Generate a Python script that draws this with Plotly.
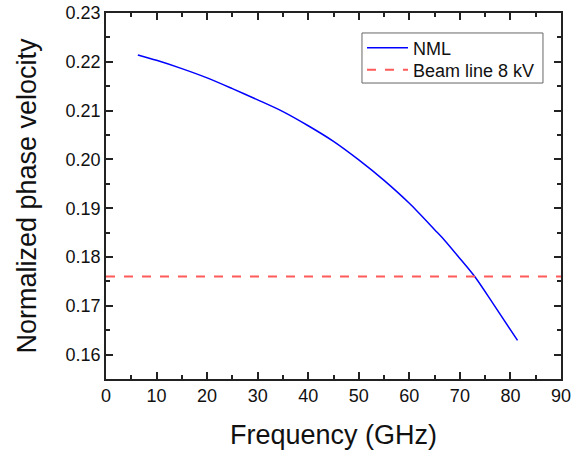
import plotly.graph_objects as go

freq_ghz = [6.3, 10, 15, 20, 25, 30, 35, 40, 45, 50, 55, 60, 65, 67, 70, 73, 76.6, 81.4]
nml_velocity = [0.2214, 0.2203, 0.2186, 0.2167, 0.2145, 0.2122, 0.2098, 0.2069, 0.2037, 0.1999,
                0.1957, 0.1910, 0.1856, 0.1834, 0.1797, 0.1759, 0.1704, 0.1629]
beam_x = [0, 90]
beam_velocity = [0.176, 0.176]

font = "Liberation Sans, Arial, sans-serif"

fig = go.Figure()
fig.add_trace(go.Scatter(x=freq_ghz, y=nml_velocity, mode="lines", name="NML", legend="legend",
                         line=dict(color="#0000FF", width=1.5, shape="spline", smoothing=0.8)))
fig.add_trace(go.Scatter(x=beam_x, y=beam_velocity, mode="lines", name="Beam line 8 kV", legend="legend2",
                         line=dict(color="#FF5A5A", width=2, dash="dash")))

axis_common = dict(showline=True, linecolor="#222222", linewidth=1.5, mirror="ticks",
                   ticks="inside", ticklen=7, tickwidth=1.5, tickcolor="#222222",
                   showgrid=False, zeroline=False, automargin=False,
                   tickfont=dict(family=font, size=18, color="#111111"),
                   minor=dict(ticks="inside", ticklen=4, tickwidth=1.5, tickcolor="#222222", showgrid=False))

fig.update_xaxes(range=[0, 90], dtick=10, tick0=0, **axis_common,
                 title=dict(text="Frequency (GHz)", font=dict(family=font, size=27, color="#111111"), standoff=20))
fig.update_xaxes(minor_dtick=5)
fig.update_yaxes(range=[0.155, 0.23], dtick=0.01, tick0=0.16, tickformat=".2f", **axis_common,
                 title=dict(text="Normalized phase velocity", font=dict(family=font, size=27, color="#111111"), standoff=21))
fig.update_yaxes(minor_dtick=0.005)

legend_common = dict(xanchor="left", yanchor="middle", borderwidth=0, bgcolor="rgba(0,0,0,0)",
                     font=dict(family=font, size=18, color="#111111"), itemwidth=41, visible=True)

fig.update_layout(
    width=586, height=453,
    margin=dict(l=106, r=25, t=13, b=74),
    plot_bgcolor="white", paper_bgcolor="white",
    showlegend=True,
    legend=dict(x=0.5626, y=0.9044, **legend_common),
    legend2=dict(x=0.5626, y=0.8443, **legend_common),
    shapes=[dict(type="rect", xref="paper", yref="paper", x0=0.5626, x1=0.9604, y0=0.8087, y1=0.9454,
                 line=dict(color="#666666", width=1), fillcolor="white", layer="below")],
)

fig.write_html("out.html", config={"displayModeBar": False},
               post_script="document.body.style.margin='0';")
